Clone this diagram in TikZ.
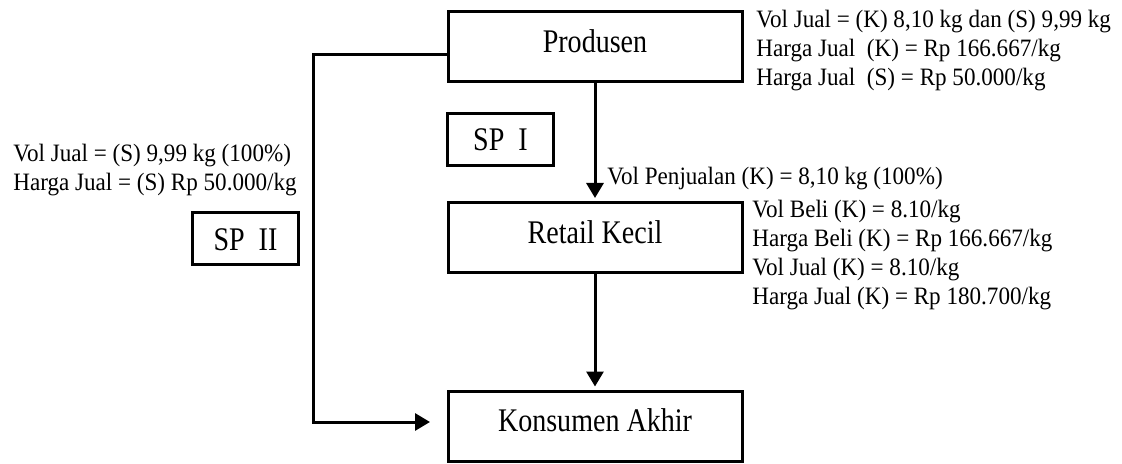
\documentclass[tikz,border=0pt]{standalone}
\usepackage{fontspec}
\setmainfont{Liberation Serif}
\newfontfamily\boxfont[FakeStretch=0.85]{Liberation Serif}
\newfontfamily\ketfont[FakeStretch=0.924]{Liberation Serif}
\usetikzlibrary{arrows.meta}
\tikzset{
  blok/.style={rectangle, draw=black, line width=1.5pt, minimum width=147pt,
    minimum height=35pt, inner sep=0pt, font=\boxfont\fontsize{16.5}{19}\selectfont,
    text height=11.5pt, text depth=5.8pt},
  spbox/.style={blok, minimum width=53pt, minimum height=26pt, text depth=0pt},
  ket/.style={inner sep=0pt, align=left, font=\ketfont\fontsize{12.5}{14.4}\selectfont},
  arr/.style={-{Triangle[length=7.5pt,width=8.5pt]}, line width=1.5pt},
}

\begin{document}
\begin{tikzpicture}[x=0.5pt, y=-0.5pt]
  \useasboundingbox (0,0) rectangle (1122,464);
  % saluran pemasaran
  \node[blok] (prod) at (595,47) {Produsen};
  \node[blok] (ret) at (595,237.5) {Retail Kecil};
  \node[blok] (kon) at (595,426) {Konsumen Akhir};
  \node[spbox] (sp1) at (500.5,139.5) {SP\ \ I};
  \node[spbox] (sp2) at (245.5,239) {SP\ \ II};

  % keterangan
  \node[ket, anchor=north west] (kprod) at (756,10)
    {Vol Jual = (K) 8,10 kg dan (S) 9,99 kg\\Harga Jual\ \ (K) = Rp 166.667/kg\\Harga Jual\ \ (S) = Rp 50.000/kg};
  \node[ket, anchor=base west] (kpenj) at (607,185) {Vol Penjualan (K) = 8,10 kg (100\%)};
  \node[ket, anchor=north west] (kret) at (752,200)
    {Vol Beli (K) = 8.10/kg\\Harga Beli (K) = Rp 166.667/kg\\Vol Jual (K) = 8.10/kg\\Harga Jual (K) = Rp 180.700/kg};
  \node[ket, anchor=north west] (kkiri) at (13,144)
    {Vol Jual = (S) 9,99 kg (100\%)\\Harga Jual = (S) Rp 50.000/kg};

  \coordinate (belok) at (313.5,55);
  \draw[arr, shorten >=1.5pt] (prod) -- (ret);
  \draw[arr, shorten >=1.5pt] (ret) -- (kon);
  \draw[arr] ([yshift=-4pt]prod.west) -- (belok) |- ([xshift=-8.25pt,yshift=2pt]kon.west);
\end{tikzpicture}
\end{document}
